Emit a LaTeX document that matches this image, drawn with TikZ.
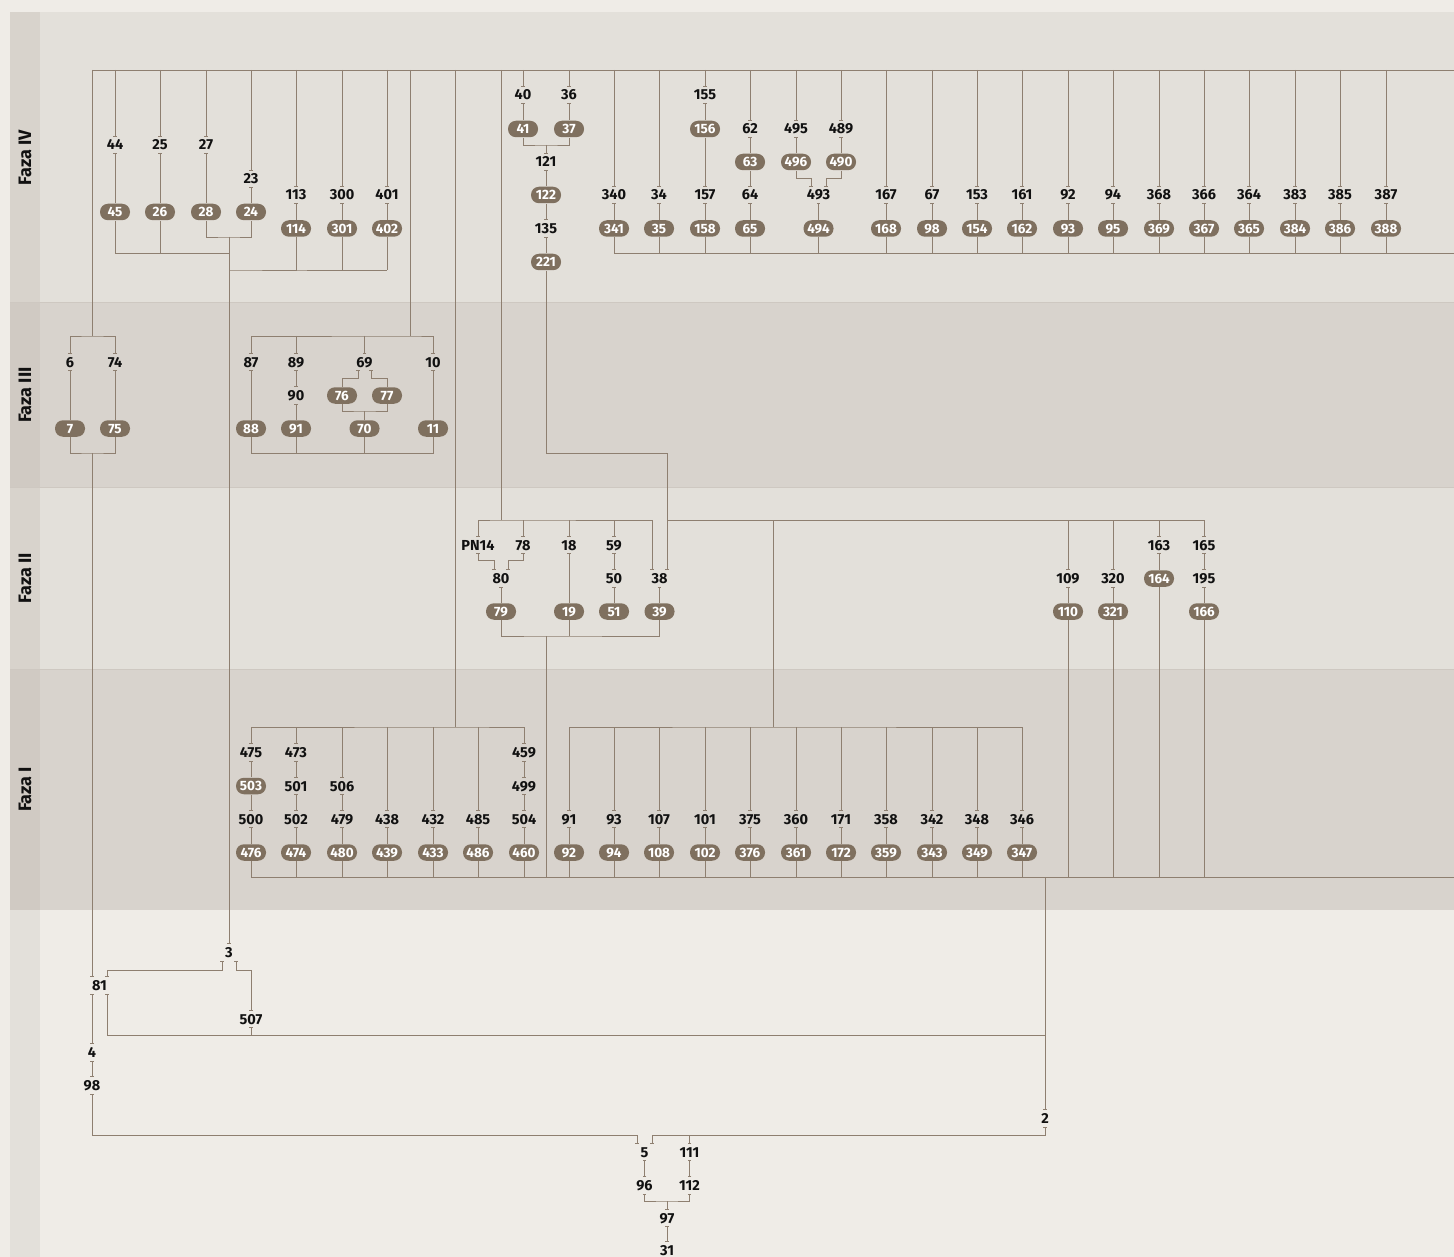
\documentclass[tikz,border=0pt]{standalone}
\usepackage{fontspec}
\setmainfont{Fira Sans}
\usetikzlibrary{arrows.meta}
\definecolor{bgO}{HTML}{EFECE7}
\definecolor{bandA}{HTML}{E3E0DA}
\definecolor{bandB}{HTML}{D8D3CD}
\definecolor{colA}{HTML}{D8D3CC}
\definecolor{colB}{HTML}{D0CAC3}
\definecolor{colC}{HTML}{E3E0DA}
\definecolor{sepc}{HTML}{CEC8C1}
\definecolor{lc}{HTML}{8E7F70}
\definecolor{pc}{HTML}{7F705F}
\definecolor{tc}{HTML}{111111}
\tikzset{
  tk/.tip={Bar[width=3.5pt,line width=0.8pt]},
  lbl/.style={text=tc, font=\fontsize{14.5}{14.5}\selectfont\bfseries, inner xsep=1pt, inner ysep=3pt, text height=10pt, text depth=0pt},
  pill/.style={fill=pc, text=white, rounded corners=8pt, minimum width=30pt, minimum height=16.5pt, inner sep=0pt, font=\fontsize{13.5}{13.5}\selectfont\bfseries, text height=9.6pt, text depth=0pt},
  phase/.style={rotate=90, text=tc, font=\fontsize{18}{18}\selectfont\bfseries}
}
\begin{document}
\begin{tikzpicture}[x=1pt,y=-1pt,color=lc,line width=0.9pt]
\useasboundingbox (0,0) rectangle (1454,1257);
% backgrounds
\fill[bgO] (0,0) rectangle (1454,1257);
\fill[bandA] (10,12) rectangle (1454,303);
\fill[bandB] (10,303) rectangle (1454,487);
\fill[bandA] (10,487) rectangle (1454,669);
\fill[bandB] (10,669) rectangle (1454,910);
\fill[colA] (10,12) rectangle (40,303);
\fill[colB] (10,303) rectangle (40,487);
\fill[colA] (10,487) rectangle (40,669);
\fill[colB] (10,669) rectangle (40,910);
\fill[colC] (10,910) rectangle (40,1257);
\draw[sepc,line width=1pt] (10,303) -- (1454,303);
\draw[sepc,line width=1pt] (10,487) -- (1454,487);
\draw[sepc,line width=1pt] (10,669) -- (1454,669);
\node[phase] (fIV) at (25,157.5) {Faza IV};
\node[phase] (fIII) at (25,395) {Faza III};
\node[phase] (fII) at (25,578) {Faza II};
\node[phase] (fI) at (25,789.5) {Faza I};

% junction coordinates
\coordinate (busTL) at (92,70);
\coordinate (busTR) at (1454,70);
\coordinate (ja) at (229,237);
\coordinate (jb) at (229,253);
\coordinate (jc) at (229,270);
\coordinate (ka) at (546,145);
\coordinate (kb) at (614,253);
\coordinate (kbR) at (1454,253);
\coordinate (j1) at (92,336);
\coordinate (j3) at (410,336);
\coordinate (j2) at (92,453);
\coordinate (j4) at (433,453);
\coordinate (j5) at (364.5,411);
\coordinate (k221) at (667,453);
\coordinate (k2) at (667,520);
\coordinate (k3) at (501,520);
\coordinate (k4) at (546,636);
\coordinate (k5) at (546,877);
\coordinate (m1) at (455,727);
\coordinate (m2) at (773,727);
\coordinate (m3) at (251,877);
\coordinate (m3R) at (1454,877);
\coordinate (m4) at (1045,877);
\coordinate (m5) at (1045,1035);
\coordinate (n1) at (92,1135);
\coordinate (n2) at (1045,1135);
\coordinate (n3) at (667,1201);

% top bus
\draw (busTL) -- (busTR);

% ---------- Faza IV ----------
\foreach \x/\t/\p/\y in {115/44/45/145, 160/25/26/145, 206/27/28/145, 251/23/24/179} {
  \node[lbl] (a\t) at (\x,\y) {\t};
  \node[pill] (a\p) at (\x,212) {\p};
  \draw[-tk] (a\t |- busTL) -- (a\t.north);
  \draw[tk-] (a\t.south) -- (a\p.north);
}
\foreach \x/\t/\p in {296/113/114, 342/300/301, 387/401/402} {
  \node[lbl] (a\t) at (\x,195) {\t};
  \node[pill] (a\p) at (\x,228.5) {\p};
  \draw[-tk] (a\t |- busTL) -- (a\t.north);
  \draw[tk-] (a\t.south) -- (a\p.north);
  \draw (a\p.south) -- (a\p.south |- jc);
}
\draw (a45.south) |- (jb);
\draw (a26.south) -- (a26.south |- jb);
\draw (a28.south) |- (ja) -| (a24.south);
\draw (a114.south) |- (jc) -- (a402.south |- jc);

\node[lbl] (a40) at (523,95) {40};
\node[lbl] (a36) at (569,95) {36};
\node[pill] (a41) at (523,129) {41};
\node[pill] (a37) at (569,129) {37};
\node[lbl] (a121) at (546,162) {121};
\node[pill] (a122) at (546,195) {122};
\node[lbl] (a135) at (546,228.5) {135};
\node[pill] (a221) at (546,262) {221};
\node[lbl] (a155) at (705,95) {155};
\node[pill] (a156) at (705,129) {156};
\node[lbl] (a157) at (705,195) {157};
\node[pill] (a158) at (705,228.5) {158};
\node[lbl] (a62) at (750,129) {62};
\node[pill] (a63) at (750,162) {63};
\node[lbl] (a64) at (750,195) {64};
\node[pill] (a65) at (750,228.5) {65};
\node[lbl] (a495) at (796,129) {495};
\node[lbl] (a489) at (841,129) {489};
\node[pill] (a496) at (796,162) {496};
\node[pill] (a490) at (841,162) {490};
\node[lbl] (a493) at (818.5,195) {493};
\node[pill] (a494) at (818.5,228.5) {494};

\foreach \n in {40,36,155,62,495,489} {
  \draw[-tk] (a\n |- busTL) -- (a\n.north);
}
\draw[tk-] (a40.south) -- (a41.north);
\draw[tk-] (a36.south) -- (a37.north);
\draw (a41.south) |- (ka) -| (a37.south);
\draw[-tk] (ka) -- (a121.north);
\draw[tk-] (a121.south) -- (a122.north);
\draw[-tk] (a122.south) -- (a135.north);
\draw[tk-] (a135.south) -- (a221.north);
\draw[tk-] (a155.south) -- (a156.north);
\draw[-tk] (a156.south) -- (a157.north);
\draw[tk-] (a157.south) -- (a158.north);
\draw[tk-] (a62.south) -- (a63.north);
\draw[-tk] (a63.south) -- (a64.north);
\draw[tk-] (a64.south) -- (a65.north);
\draw[tk-] (a495.south) -- (a496.north);
\draw[tk-] (a489.south) -- (a490.north);
\draw[-tk] (a496.south) -- ++(0,8) -| ([xshift=-7.5pt]a493.north);
\draw[-tk] (a490.south) -- ++(0,8) -| ([xshift=7.5pt]a493.north);
\draw[tk-] (a493.south) -- (a494.north);

\foreach \x/\t/\p in {614/340/341, 659/34/35, 886/167/168, 932/67/98, 977/153/154, 1022/161/162, 1068/92/93, 1113/94/95, 1159/368/369, 1204/366/367, 1249/364/365, 1295/383/384, 1340/385/386, 1386/387/388} {
  \node[lbl] (a\t) at (\x,195) {\t};
  \node[pill] (a\p) at (\x,228.5) {\p};
  \draw[-tk] (a\t |- busTL) -- (a\t.north);
  \draw[tk-] (a\t.south) -- (a\p.north);
  \draw (a\p.south) -- (a\p.south |- kb);
}
\draw (a341.south) |- (kbR);
\foreach \n in {158,65,494} {
  \draw (a\n.south) -- (a\n.south |- kb);
}

% ---------- Faza III ----------
\node[lbl] (b6) at (70,362) {6};
\node[lbl] (b74) at (115,362) {74};
\node[pill] (b7) at (70,428.5) {7};
\node[pill] (b75) at (115,428.5) {75};
\node[lbl] (b87) at (251,362) {87};
\node[lbl] (b89) at (296,362) {89};
\node[lbl] (b69) at (364.5,362) {69};
\node[lbl] (b10) at (433,362) {10};
\node[lbl] (b90) at (296,395.5) {90};
\node[pill] (b76) at (342,395.5) {76};
\node[pill] (b77) at (387,395.5) {77};
\node[pill] (b88) at (251,428.5) {88};
\node[pill] (b91) at (296,428.5) {91};
\node[pill] (b70) at (364.5,428.5) {70};
\node[pill] (b11) at (433,428.5) {11};

\draw (busTL) -- (j1);
\draw[tk-tk] (b6.north) |- (j1) -| (b74.north);
\draw[tk-] (b6.south) -- (b7.north);
\draw[tk-] (b74.south) -- (b75.north);
\draw (b7.south) |- (j2) -| (b75.south);

\draw (j3 |- busTL) -- (j3);
\draw[tk-tk] (b87.north) |- (j3) -| (b10.north);
\draw[-tk] (b89 |- j3) -- (b89.north);
\draw[-tk] (b69 |- j3) -- (b69.north);
\draw[tk-] (b87.south) -- (b88.north);
\draw[tk-tk] (b89.south) -- (b90.north);
\draw[tk-] (b90.south) -- (b91.north);
\draw[tk-] ([xshift=-6.5pt]b69.south) -- ++(0,8) -| (b76.north);
\draw[tk-] ([xshift=6.5pt]b69.south) -- ++(0,8) -| (b77.north);
\draw (b76.south) |- (j5) -| (b77.south);
\draw (j5) -- (b70.north);
\draw[tk-] (b10.south) -- (b11.north);
\draw (b88.south) |- (j4) -- (b11.south);
\draw (b91.south) -- (b91.south |- j4);
\draw (b70.south) -- (b70.south |- j4);

% ---------- Faza II ----------
\node[lbl] (cPN14) at (478,545) {PN14};
\node[lbl] (c78) at (523,545) {78};
\node[lbl] (c18) at (569,545) {18};
\node[lbl] (c59) at (614,545) {59};
\node[lbl] (c80) at (501,578.5) {80};
\node[lbl] (c50) at (614,578.5) {50};
\node[lbl] (c38) at (659.5,578.5) {38};
\node[pill] (c79) at (501,611.5) {79};
\node[pill] (c19) at (569,611.5) {19};
\node[pill] (c51) at (614,611.5) {51};
\node[pill] (c39) at (659.5,611.5) {39};
\node[lbl] (c109) at (1068,578.5) {109};
\node[lbl] (c320) at (1113,578.5) {320};
\node[lbl] (c163) at (1159,545) {163};
\node[lbl] (c165) at (1204,545) {165};
\node[pill] (c164) at (1159,578.5) {164};
\node[lbl] (c195) at (1204,578.5) {195};
\node[pill] (c110) at (1068,611.5) {110};
\node[pill] (c321) at (1113,611.5) {321};
\node[pill] (c166) at (1204,611.5) {166};

\draw (a221.south) |- (k221);
\draw[-tk] (k221) -- ([xshift=7.5pt]c38.north);
\draw (k3 |- busTL) -- (k3);
\draw[tk-tk] (cPN14.north) |- (k3) -| ([xshift=-7.5pt]c38.north);
\foreach \n in {78,18,59} {
  \draw[-tk] (c\n |- k3) -- (c\n.north);
}
\draw[tk-tk] (cPN14.south) -- ++(0,7) -| ([xshift=-7pt]c80.north);
\draw[tk-tk] (c78.south) -- ++(0,7) -| ([xshift=7pt]c80.north);
\draw[tk-] (c80.south) -- (c79.north);
\draw[tk-] (c18.south) -- (c19.north);
\draw[tk-tk] (c59.south) -- (c50.north);
\draw[tk-] (c50.south) -- (c51.north);
\draw[tk-] (c38.south) -- (c39.north);
\draw (c79.south) |- (k4) -| (c39.south);
\draw (c19.south) -- (c19.south |- k4);
\draw (k4) -- (k5);

\draw[-tk] (k2) -| (c165.north);
\foreach \n in {109,320,163} {
  \draw[-tk] (c\n |- k2) -- (c\n.north);
}
\draw[tk-] (c109.south) -- (c110.north);
\draw[tk-] (c320.south) -- (c321.north);
\draw[tk-] (c163.south) -- (c164.north);
\draw[tk-tk] (c165.south) -- (c195.north);
\draw[tk-] (c195.south) -- (c166.north);
\foreach \n in {110,321,164,166} {
  \draw (c\n.south) -- (c\n.south |- m3);
}

% ---------- Faza I ----------
\node[lbl] (d475) at (251,752.5) {475};
\node[lbl] (d473) at (296,752.5) {473};
\node[lbl] (d459) at (524,752.5) {459};
\node[pill] (d503) at (251,786) {503};
\node[lbl] (d501) at (296,786) {501};
\node[lbl] (d506) at (342,786) {506};
\node[lbl] (d499) at (524,786) {499};
\foreach \x/\t/\p in {251/500/476, 296/502/474, 342/479/480, 387/438/439, 433/432/433, 478/485/486, 524/504/460, 569/91/92, 614/93/94, 659/107/108, 705/101/102, 750/375/376, 796/360/361, 841/171/172, 886/358/359, 932/342/343, 977/348/349, 1022/346/347} {
  \node[lbl] (d\t) at (\x,819) {\t};
  \node[pill] (d\p) at (\x,852.5) {\p};
  \draw[tk-] (d\t.south) -- (d\p.north);
  \draw (d\p.south) -- (d\p.south |- m3);
}
\draw (m1 |- busTL) -- (m1);
\draw[tk-tk] (d475.north) |- (m1) -| (d459.north);
\foreach \n in {473,506,438,432,485} {
  \draw[-tk] (d\n |- m1) -- (d\n.north);
}
\draw[tk-] (d475.south) -- (d503.north);
\draw[-tk] (d503.south) -- (d500.north);
\draw[tk-tk] (d473.south) -- (d501.north);
\draw[tk-tk] (d501.south) -- (d502.north);
\draw[tk-tk] (d506.south) -- (d479.north);
\draw[tk-tk] (d459.south) -- (d499.north);
\draw[tk-tk] (d499.south) -- (d504.north);

\draw (m2 |- k2) -- (m2);
\draw[tk-tk] (d91.north) |- (m2) -| (d346.north);
\foreach \n in {93,107,101,375,360,171,358,342,348} {
  \draw[-tk] (d\n |- m2) -- (d\n.north);
}
\draw (d476.south) |- (m3R);

% ---------- below ----------
\node[lbl] (e3) at (229,952.5) {3};
\node[lbl] (e81) at (99.5,985.5) {81};
\node[lbl] (e507) at (251,1019) {507};
\node[lbl] (e4) at (92,1052.5) {4};
\node[lbl] (e98) at (92,1085.5) {98};
\node[lbl] (e2) at (1045,1118.5) {2};
\node[lbl] (e5) at (644.5,1152) {5};
\node[lbl] (e111) at (689.5,1152) {111};
\node[lbl] (e96) at (644.5,1185.5) {96};
\node[lbl] (e112) at (689.5,1185.5) {112};
\node[lbl] (e97) at (667,1218) {97};
\node[lbl] (e31) at (667,1250) {31};

\draw[-tk] (ja) -- (e3.north);
\draw[-tk] (j2) -- ([xshift=-7.5pt]e81.north);
\draw[tk-tk] ([xshift=-7pt]e3.south) -- ++(0,9) -| ([xshift=7.5pt]e81.north);
\draw[tk-tk] ([xshift=7pt]e3.south) -- ++(0,9) -| (e507.north);
\draw[tk-tk] ([xshift=-7.5pt]e81.south) -- (e4.north);
\draw[tk-] ([xshift=7.5pt]e81.south) |- (m5);
\draw[tk-] (e507.south) -- (e507.south |- m5);
\draw[-tk] (m4) -- (e2.north);
\draw[tk-tk] (e4.south) -- (e98.north);
\draw[tk-tk] (e98.south) -- (n1) -| ([xshift=-7.5pt]e5.north);
\draw[tk-tk] (e2.south) -- (n2) -| ([xshift=7.5pt]e5.north);
\draw[-tk] (e111 |- n2) -- (e111.north);
\draw[tk-tk] (e5.south) -- (e96.north);
\draw[tk-tk] (e111.south) -- (e112.north);
\draw[tk-tk] (e96.south) |- (n3) -| (e112.south);
\draw[-tk] (n3) -- (e97.north);
\draw[tk-tk] (e97.south) -- (e31.north);
\end{tikzpicture}
\end{document}
